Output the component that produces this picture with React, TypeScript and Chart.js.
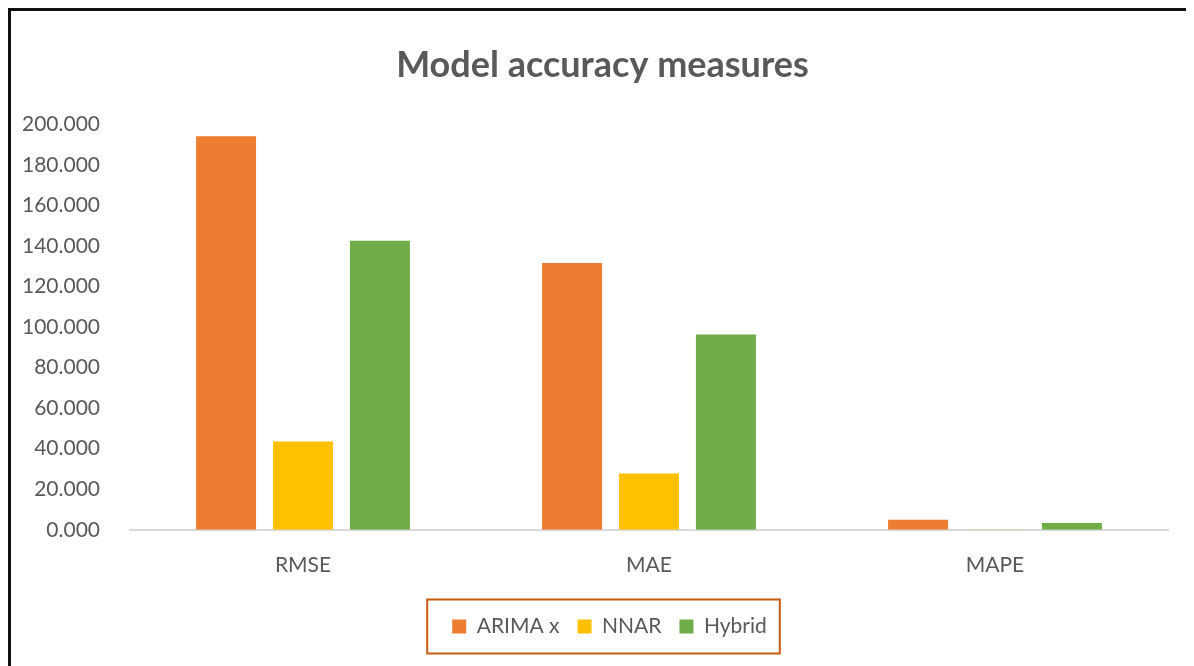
import React, { useEffect, useRef } from "react";
import { Chart, registerables } from "chart.js";

Chart.register(...registerables);

const categories = ["RMSE", "MAE", "MAPE"];
const seriesNames = ["ARIMA x", "NNAR", "Hybrid"];
const arimaValues = [194.1, 131.6, 4.9];
const nnarValues = [43.5, 27.7, 0.2];
const hybridValues = [142.5, 96.3, 3.3];
const yTicks = [0, 20, 40, 60, 80, 100, 120, 140, 160, 180, 200];
const seriesColors = ["#ED7D31", "#FFC000", "#70AD47"];

const FONT = "Lato, 'Open Sans', sans-serif";
const TEXT = "#595959";
const LEGEND_SHIFT = 20;
const TITLE_SHIFT = 13;

const legendBorder = {
  id: "legendBorder",
  afterLayout(chart: any) {
    const lg = chart.legend;
    if (lg) {
      lg.left += LEGEND_SHIFT;
      lg.right += LEGEND_SHIFT;
    }
    const tt = chart.titleBlock;
    if (tt) {
      tt.left += TITLE_SHIFT;
      tt.right += TITLE_SHIFT;
    }
  },
  afterDraw(chart: any) {
    const lg = chart.legend;
    if (!lg || !lg.legendHitBoxes || !lg.legendHitBoxes.length) return;
    const boxes = lg.legendHitBoxes;
    let l = Infinity, r = -Infinity, t = Infinity, b = -Infinity;
    for (const h of boxes) {
      l = Math.min(l, h.left);
      r = Math.max(r, h.left + h.width);
      t = Math.min(t, h.top);
      b = Math.max(b, h.top + h.height);
    }
    const cy = (t + b) / 2;
    const ctx = chart.ctx;
    ctx.save();
    ctx.strokeStyle = "#C55A11";
    ctx.lineWidth = 2;
    ctx.strokeRect(l - 25, cy - 27, r - l + 38, 54);
    ctx.restore();
  },
};

export default function App() {
  const ref = useRef<HTMLCanvasElement | null>(null);
  useEffect(() => {
    if (!ref.current) return;
    const chart = new Chart(ref.current, {
      type: "bar",
      data: {
        labels: categories,
        datasets: [arimaValues, nnarValues, hybridValues].map((d, i) => ({
          label: seriesNames[i],
          data: d,
          backgroundColor: seriesColors[i],
          borderWidth: 0,
          categoryPercentage: 0.667,
          barPercentage: 0.78,
        })),
      },
      options: {
        responsive: false,
        animation: false,
        maintainAspectRatio: false,
        layout: { padding: { left: 0, right: 26, top: 0, bottom: 19 } },
        plugins: {
          title: {
            display: true,
            text: "Model accuracy measures",
            color: TEXT,
            font: { family: FONT, size: 36, weight: "bold" },
            padding: { top: 33, bottom: 37 },
          },
          legend: {
            position: "bottom",
            labels: {
              color: TEXT,
              font: { family: FONT, size: 21 },
              boxWidth: 14,
              boxHeight: 14,
              padding: 18,
            },
          },
          tooltip: { enabled: false },
        },
        scales: {
          x: {
            grid: { display: false },
            border: { display: true, color: "#D9D9D9", width: 2 },
            ticks: { color: TEXT, font: { family: FONT, size: 21 }, padding: 15 },
            afterFit: (scale: any) => {
              scale.height += 5;
            },
          },
          y: {
            min: 0,
            max: 200,
            afterBuildTicks: (scale: any) => {
              scale.ticks = yTicks.map((v) => ({ value: v }));
            },
            afterFit: (scale: any) => {
              scale.width = 119;
            },
            grid: { display: false },
            border: { display: false },
            ticks: {
              color: TEXT,
              font: { family: FONT, size: 21 },
              padding: 22,
              callback: (v: any) => Number(v).toFixed(3),
            },
          },
        },
      },
      plugins: [legendBorder],
    });
    return () => chart.destroy();
  }, []);
  return (
    <div
      style={{
        width: 1186,
        height: 658,
        boxSizing: "border-box",
        borderTop: "3px solid #111",
        borderLeft: "3px solid #111",
        background: "#fff",
        overflow: "hidden",
      }}
    >
      <canvas ref={ref} width={1183} height={655} style={{ display: "block" }} />
    </div>
  );
}
